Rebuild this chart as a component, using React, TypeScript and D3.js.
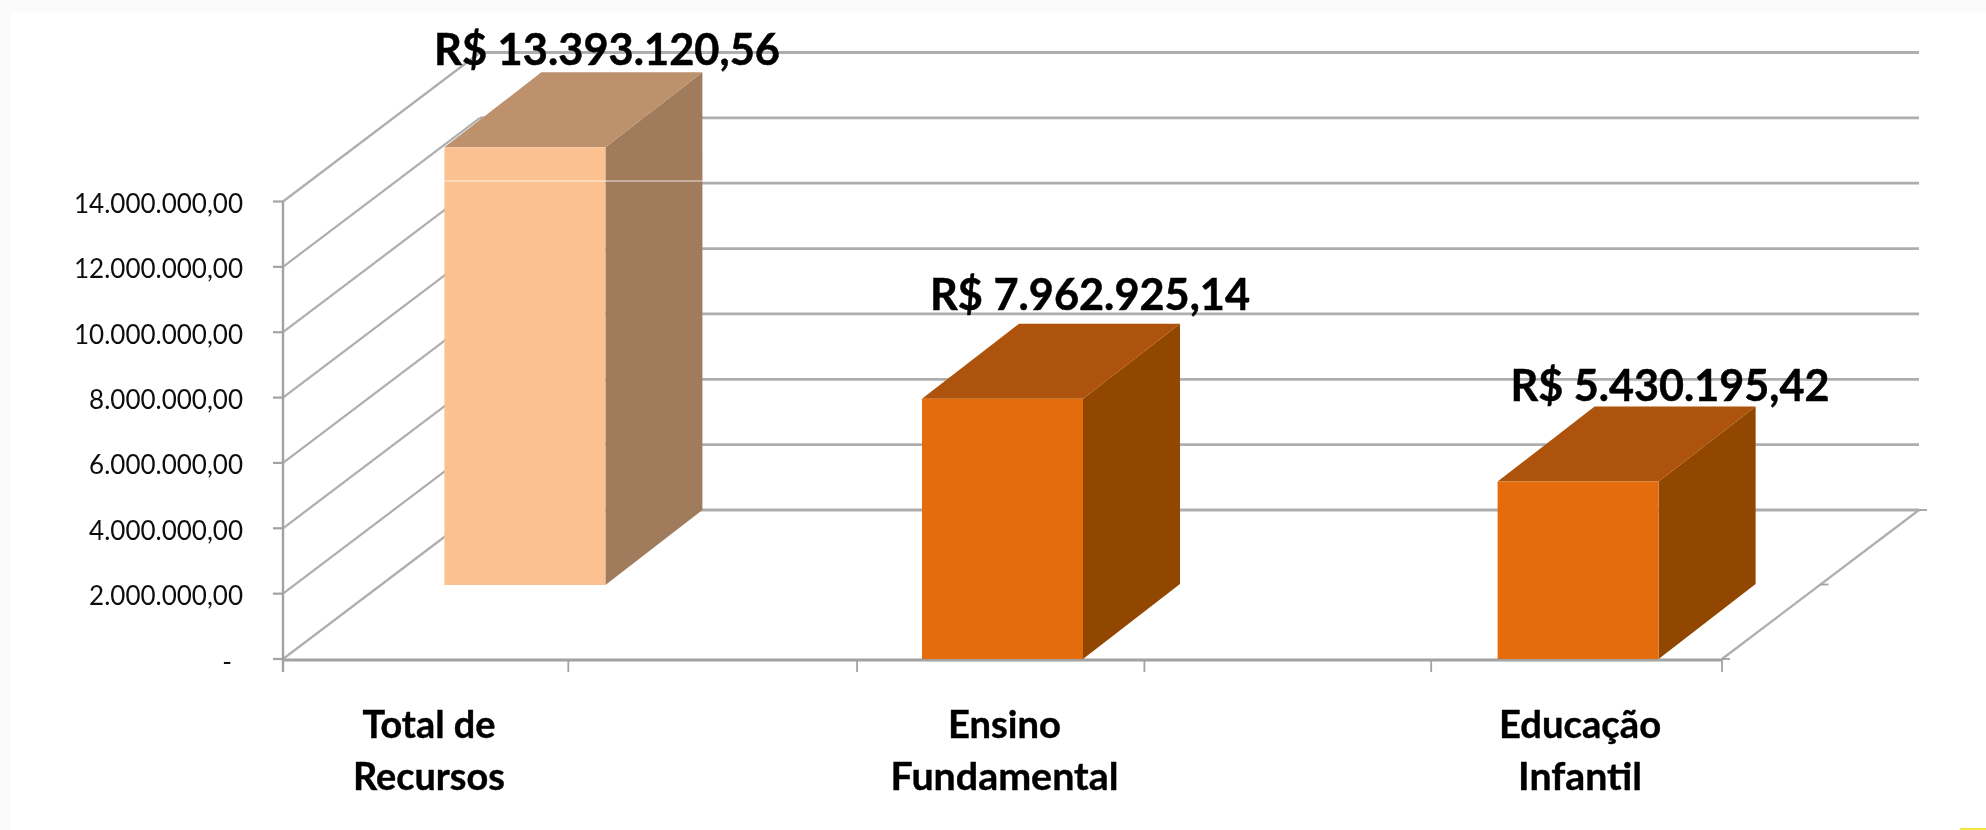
import React from "react";
import * as d3 from "d3";

const categories = ["Total de Recursos", "blank-a", "Ensino Fundamental", "blank-b", "Educação Infantil"];
const barCategories = ["Total de Recursos", "Ensino Fundamental", "Educação Infantil"];
const barValues = [13393120.56, 7962925.14, 5430195.42];
const barLabels = ["R$ 13.393.120,56", "R$ 7.962.925,14", "R$ 5.430.195,42"];
const categoryLines = [["Total de", "Recursos"], ["Ensino", "Fundamental"], ["Educação", "Infantil"]];
const yTicks = [0, 2000000, 4000000, 6000000, 8000000, 10000000, 12000000, 14000000];
const yTickLabels = ["-", "2.000.000,00", "4.000.000,00", "6.000.000,00", "8.000.000,00", "10.000.000,00", "12.000.000,00", "14.000.000,00"];

// layout
const W = 1986, H = 830;
const X0 = 283, X1 = 1722, Y0 = 659, Y14 = 201.5;
const wallDx = 197, wallDy = -149;
const barW = 161, barDx = 97, barDy = -75;
const barShift = [{ x: 98, y: -74 }, { x: 0, y: 0 }, { x: 0, y: 0 }];
const labelPos = [{ x: 607, y: 65, w: 346 }, { x: 1090, y: 310, w: 320 }, { x: 1670, y: 401, w: 319 }];
const lineWidths = [[133, 152], [113, 228], [162, 124]];
const edgeNudge = [0, -2.5, -1.5, -2, -3, 0];
const FONT = "Lato, Carlito, sans-serif";
const GRID = "#aeaeae";
const AXIS = "#a2a2a2";
const barColors = [
  { front: "#fcc190", top: "#bd916c", side: "#a07c5c" },
  { front: "#e56c0c", top: "#ae5307", side: "#924606" },
  { front: "#e56c0c", top: "#ae5307", side: "#924606" },
];

const x = d3.scaleBand<string>().domain(categories).range([X0, X1]);
const y = d3.scaleLinear().domain([0, 14000000]).range([Y0, Y14]);
const h0 = y(0);
const poly = d3.line<[number, number]>();

export default function App() {
  const band = x.bandwidth();
  const xEdges = d3.range(categories.length + 1).map((i) => X0 + i * band + edgeNudge[i]);
  const b0 = (x(barCategories[0]) as number) + band / 2 + barShift[0].x;
  return (
    <svg
      width={W}
      height={H}
      viewBox={`0 0 ${W} ${H}`}
      style={{ position: "absolute", left: 0, top: 0, background: "#fff", display: "block" }}
    >
      <defs>
        <filter id="soft" x="-2%" y="-2%" width="104%" height="104%" filterUnits="objectBoundingBox">
          <feGaussianBlur stdDeviation="0.55" />
        </filter>
      </defs>
      <rect x={0} y={0} width={W} height={12} fill="#fbfbfb" />
      <rect x={0} y={0} width={11} height={H} fill="#fbfbfb" />
      <rect x={1960} y={828} width={26} height={2} fill="#f5e642" />
      <g filter="url(#soft)">
        {/* back wall gridlines */}
        {yTicks.map((t) => (
          <line key={t} x1={X0 + wallDx} x2={X1 + wallDx} y1={y(t) + wallDy} y2={y(t) + wallDy}
            stroke={GRID} strokeWidth={2.8} />
        ))}
        {/* left wall diagonals */}
        {yTicks.map((t) => (
          <line key={t} x1={X0} y1={y(t)} x2={X0 + wallDx} y2={y(t) + wallDy} stroke={GRID} strokeWidth={2.2} />
        ))}
        {/* floor right edge */}
        <line x1={X1} y1={h0} x2={X1 + wallDx} y2={h0 + wallDy} stroke={GRID} strokeWidth={2.2} />
        <line x1={X1 + wallDx / 2} x2={X1 + wallDx / 2 + 8} y1={h0 + wallDy / 2} y2={h0 + wallDy / 2} stroke={AXIS} strokeWidth={1.8} />
        <line x1={X1} x2={X1 + 8} y1={h0} y2={h0} stroke={AXIS} strokeWidth={1.8} />
        <line x1={X1 + wallDx} x2={X1 + wallDx + 8} y1={h0 + wallDy} y2={h0 + wallDy} stroke={AXIS} strokeWidth={1.8} />
        {/* axes */}
        <line x1={X0} x2={X0} y1={Y14} y2={h0 + 13} stroke={AXIS} strokeWidth={2.4} />
        <line x1={X0} x2={X1} y1={h0 + 1} y2={h0 + 1} stroke={AXIS} strokeWidth={2.8} />
        {yTicks.map((t) => (
          <line key={t} x1={X0 - 10} x2={X0} y1={y(t)} y2={y(t)} stroke={AXIS} strokeWidth={2.2} />
        ))}
        {xEdges.map((e) => (
          <line key={e} x1={e} x2={e} y1={h0} y2={h0 + 13} stroke={AXIS} strokeWidth={1.8} />
        ))}
        {/* y labels */}
        {yTicks.map((t, i) => (
          <text key={t} x={i === 0 ? 232 : 243} y={y(t) + 11.5} textAnchor="end" fontFamily={FONT} fontSize={26} fill="#111">
            {yTickLabels[i]}
          </text>
        ))}
        {/* bars */}
        {barCategories.map((c, i) => {
          const cx = (x(c) as number) + band / 2 + barShift[i].x;
          const l = cx - barW / 2, r = cx + barW / 2;
          const b = h0 + barShift[i].y;
          const t = y(barValues[i]) + barShift[i].y;
          const col = barColors[i];
          return (
            <g key={c}>
              <path fill={col.side} d={poly([[r, t], [r + barDx, t + barDy], [r + barDx, b + barDy], [r, b]]) + "Z"} />
              <path fill={col.top} d={poly([[l, t], [l + barDx, t + barDy], [r + barDx, t + barDy], [r, t]]) + "Z"} />
              <rect x={l} y={t} width={barW} height={b - t} fill={col.front} />
            </g>
          );
        })}
        {/* faint line across the first bar */}
        <line x1={b0 - barW / 2} x2={b0 + barW / 2 + barDx} y1={181} y2={181} stroke="#fff" strokeOpacity={0.4} strokeWidth={2} />
        {/* value labels */}
        {barLabels.map((s, i) => (
          <text key={s} x={labelPos[i].x} y={labelPos[i].y} textAnchor="middle" fontFamily={FONT} fontWeight={700} fontSize={43}
            textLength={labelPos[i].w} lengthAdjust="spacingAndGlyphs" fill="#000" stroke="#000" strokeWidth={0.5}>
            {s}
          </text>
        ))}
        {/* category labels */}
        {barCategories.map((c, i) =>
          categoryLines[i].map((ln, j) => (
            <text key={ln} x={(x(c) as number) + band / 2 + 2} y={738 + j * 52} textAnchor="middle" fontFamily={FONT} fontWeight={700} fontSize={38}
              textLength={lineWidths[i][j]} lengthAdjust="spacingAndGlyphs" fill="#000" stroke="#000" strokeWidth={0.4}>
              {ln}
            </text>
          ))
        )}
      </g>
    </svg>
  );
}
